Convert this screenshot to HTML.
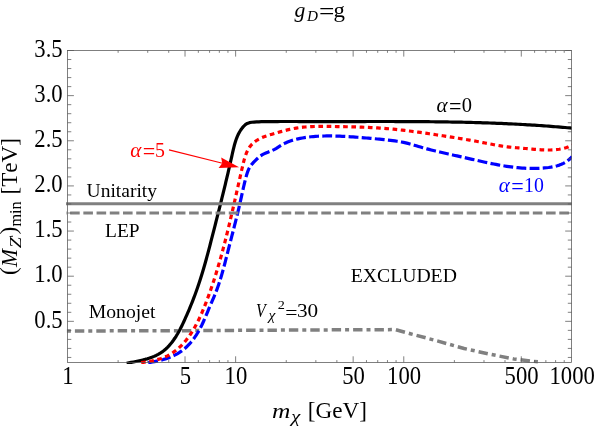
<!DOCTYPE html>
<html><head><meta charset="utf-8"><title>plot</title>
<style>
html,body{margin:0;padding:0;background:#fff;}
svg{display:block;font-family:"Liberation Serif",serif;will-change:transform;font-kerning:none;}
.tk{fill:#000;}
.an{font-size:19.5px;fill:#000;}
.al{font-size:21px;}
i,.it{font-style:italic;}
</style></head><body>
<svg width="595" height="428" viewBox="0 0 595 428">
<rect width="595" height="428" fill="#fff"/>
<defs><clipPath id="cp"><rect x="66.0" y="50.5" width="505.9" height="313.59999999999997"/></clipPath></defs>
<g clip-path="url(#cp)" fill="none">
<path d="M66.40,331.00 L200.00,330.60 L300.00,330.00 L395.50,329.60 L410.30,333.70 L437.20,340.90 L464.10,348.50 L491.00,354.40 L513.60,358.90 L530.40,361.00 L539.70,362.00" stroke="#808080" stroke-width="3.5" stroke-dasharray="9.4 4 4 4" stroke-dashoffset="12.9" stroke-linejoin="round"/>
<path d="M126.63,363.35 L128.88,362.88 L131.16,362.42 L133.47,361.96 L135.79,361.50 L138.11,361.02 L140.44,360.51 L142.76,359.96 L145.06,359.38 L147.35,358.73 L149.60,358.02 L151.82,357.24 L154.00,356.38 L156.13,355.43 L158.20,354.37 L160.21,353.21 L162.14,351.92 L164.00,350.51 L165.79,348.98 L167.49,347.34 L169.13,345.61 L170.69,343.80 L172.18,341.93 L173.60,339.99 L174.95,338.02 L176.24,336.02 L177.46,334.00 L178.63,331.95 L179.75,329.89 L180.83,327.81 L181.88,325.72 L182.89,323.61 L183.88,321.49 L184.85,319.36 L185.81,317.22 L186.76,315.08 L187.70,312.92 L188.62,310.76 L189.54,308.60 L190.44,306.42 L191.32,304.24 L192.20,302.05 L193.06,299.85 L193.90,297.65 L194.74,295.45 L195.56,293.23 L196.36,291.01 L197.15,288.79 L197.93,286.56 L198.69,284.32 L199.44,282.08 L200.17,279.83 L200.88,277.58 L201.59,275.33 L202.28,273.07 L202.96,270.81 L203.62,268.54 L204.28,266.28 L204.93,264.01 L205.56,261.73 L206.19,259.46 L206.81,257.18 L207.43,254.90 L208.04,252.62 L208.64,250.34 L209.24,248.06 L209.83,245.78 L210.42,243.50 L211.01,241.22 L211.60,238.94 L212.18,236.66 L212.77,234.39 L213.35,232.11 L213.94,229.83 L214.52,227.56 L215.10,225.28 L215.68,223.01 L216.26,220.73 L216.84,218.46 L217.42,216.18 L217.99,213.91 L218.56,211.63 L219.14,209.36 L219.71,207.08 L220.28,204.81 L220.84,202.53 L221.41,200.25 L221.97,197.97 L222.54,195.69 L223.10,193.41 L223.65,191.12 L224.21,188.84 L224.76,186.55 L225.32,184.26 L225.86,181.97 L226.41,179.67 L226.95,177.38 L227.50,175.08 L228.04,172.78 L228.57,170.47 L229.11,168.17 L229.64,165.86 L230.16,163.54 L230.69,161.23 L231.21,158.91 L231.73,156.58 L232.24,154.26 L232.76,151.93 L233.29,149.61 L233.85,147.29 L234.44,145.00 L235.09,142.73 L235.80,140.50 L236.58,138.30 L237.46,136.15 L238.44,134.04 L239.54,132.00 L240.76,130.02 L242.13,128.12 L243.65,126.30 L245.35,124.67 L247.27,123.41 L249.44,122.66 L251.76,122.28 L254.14,122.07 L256.52,121.91 L258.90,121.79 L261.27,121.70 L263.63,121.64 L265.99,121.59 L268.35,121.57 L270.71,121.55 L273.07,121.54 L275.43,121.53 L277.78,121.53 L280.14,121.52 L282.50,121.52 L284.85,121.52 L287.21,121.52 L289.57,121.52 L291.92,121.52 L294.28,121.52 L296.63,121.52 L298.99,121.53 L301.34,121.53 L303.70,121.54 L306.05,121.54 L308.41,121.54 L310.76,121.55 L313.12,121.55 L315.47,121.56 L317.83,121.56 L320.18,121.56 L322.54,121.56 L324.89,121.56 L327.25,121.56 L329.60,121.56 L331.96,121.56 L334.31,121.56 L336.67,121.56 L339.02,121.56 L341.38,121.56 L343.74,121.55 L346.09,121.55 L348.45,121.55 L350.80,121.54 L353.16,121.54 L355.52,121.54 L357.87,121.53 L360.23,121.53 L362.59,121.53 L364.94,121.53 L367.30,121.52 L369.66,121.52 L372.01,121.52 L374.37,121.52 L376.73,121.52 L379.08,121.52 L381.44,121.51 L383.80,121.52 L386.15,121.52 L388.51,121.52 L390.87,121.52 L393.22,121.52 L395.58,121.53 L397.94,121.53 L400.29,121.54 L402.65,121.55 L405.01,121.56 L407.36,121.57 L409.72,121.58 L412.08,121.59 L414.43,121.60 L416.79,121.62 L419.15,121.63 L421.50,121.65 L423.86,121.67 L426.22,121.69 L428.57,121.71 L430.93,121.73 L433.29,121.76 L435.64,121.79 L438.00,121.82 L440.35,121.85 L442.71,121.88 L445.07,121.91 L447.42,121.95 L449.78,121.99 L452.13,122.03 L454.49,122.07 L456.85,122.12 L459.20,122.17 L461.56,122.22 L463.91,122.27 L466.27,122.32 L468.62,122.38 L470.98,122.44 L473.33,122.50 L475.69,122.57 L478.04,122.64 L480.40,122.71 L482.75,122.78 L485.11,122.86 L487.46,122.93 L489.82,123.02 L492.17,123.10 L494.52,123.19 L496.88,123.28 L499.23,123.38 L501.58,123.47 L503.94,123.58 L506.29,123.68 L508.64,123.79 L511.00,123.90 L513.35,124.01 L515.70,124.13 L518.06,124.25 L520.41,124.38 L522.76,124.51 L525.11,124.64 L527.46,124.78 L529.81,124.92 L532.17,125.06 L534.52,125.21 L536.87,125.36 L539.22,125.52 L541.57,125.68 L543.92,125.85 L546.27,126.02 L548.62,126.19 L550.97,126.37 L553.32,126.55 L555.67,126.74 L558.02,126.93 L560.37,127.12 L562.71,127.32 L565.06,127.53 L567.41,127.74 L569.76,127.95 L572.11,128.17" stroke="#000" stroke-width="3.2" stroke-linejoin="round"/>
<path d="M148.24,362.64 L150.36,362.34 L152.50,362.00 L154.65,361.61 L156.81,361.17 L158.98,360.68 L161.14,360.14 L163.29,359.54 L165.42,358.88 L167.54,358.16 L169.63,357.38 L171.69,356.53 L173.72,355.60 L175.70,354.61 L177.64,353.54 L179.52,352.39 L181.34,351.16 L183.10,349.85 L184.80,348.46 L186.43,346.99 L188.01,345.46 L189.52,343.86 L190.98,342.21 L192.38,340.50 L193.72,338.74 L195.00,336.94 L196.23,335.10 L197.40,333.23 L198.52,331.32 L199.59,329.39 L200.62,327.44 L201.61,325.47 L202.56,323.47 L203.48,321.46 L204.38,319.44 L205.26,317.41 L206.12,315.37 L206.98,313.33 L207.82,311.28 L208.67,309.23 L209.53,307.19 L210.39,305.15 L211.26,303.12 L212.14,301.09 L213.02,299.06 L213.90,297.03 L214.75,295.00 L215.58,292.95 L216.38,290.90 L217.15,288.84 L217.90,286.76 L218.62,284.68 L219.32,282.59 L219.99,280.49 L220.65,278.38 L221.29,276.27 L221.91,274.15 L222.51,272.03 L223.11,269.90 L223.69,267.76 L224.25,265.63 L224.82,263.49 L225.37,261.35 L225.92,259.20 L226.46,257.06 L227.01,254.92 L227.55,252.77 L228.09,250.63 L228.64,248.49 L229.18,246.35 L229.73,244.21 L230.29,242.07 L230.84,239.93 L231.39,237.80 L231.94,235.66 L232.50,233.52 L233.05,231.39 L233.60,229.25 L234.15,227.12 L234.69,224.98 L235.24,222.84 L235.78,220.70 L236.31,218.56 L236.84,216.42 L237.37,214.28 L237.89,212.13 L238.41,209.98 L238.91,207.83 L239.42,205.68 L239.91,203.52 L240.40,201.36 L240.88,199.20 L241.35,197.04 L241.82,194.87 L242.30,192.71 L242.78,190.55 L243.26,188.39 L243.75,186.23 L244.26,184.08 L244.78,181.94 L245.32,179.80 L245.87,177.67 L246.46,175.55 L247.08,173.44 L247.79,171.38 L248.63,169.37 L249.65,167.44 L250.86,165.60 L252.23,163.85 L253.72,162.17 L255.28,160.55 L256.89,159.00 L258.52,157.51 L260.21,156.14 L262.00,154.93 L263.90,153.90 L265.88,153.01 L267.92,152.19 L269.98,151.40 L272.03,150.56 L274.04,149.63 L275.99,148.56 L277.88,147.38 L279.76,146.17 L281.65,145.00 L283.58,143.92 L285.56,142.94 L287.57,142.06 L289.61,141.26 L291.68,140.54 L293.78,139.90 L295.91,139.33 L298.05,138.82 L300.21,138.37 L302.39,137.97 L304.57,137.61 L306.75,137.30 L308.95,137.02 L311.14,136.78 L313.34,136.57 L315.54,136.40 L317.75,136.25 L319.96,136.14 L322.17,136.05 L324.38,135.99 L326.59,135.96 L328.80,135.94 L331.02,135.95 L333.23,135.98 L335.44,136.03 L337.66,136.10 L339.87,136.18 L342.08,136.28 L344.29,136.39 L346.50,136.51 L348.70,136.64 L350.90,136.78 L353.10,136.93 L355.30,137.09 L357.50,137.25 L359.70,137.42 L361.89,137.60 L364.09,137.79 L366.28,137.98 L368.48,138.18 L370.67,138.37 L372.87,138.58 L375.07,138.78 L377.27,138.99 L379.47,139.20 L381.67,139.41 L383.87,139.63 L386.07,139.85 L388.28,140.09 L390.47,140.34 L392.67,140.61 L394.86,140.90 L397.05,141.22 L399.23,141.58 L401.40,141.97 L403.56,142.40 L405.71,142.87 L407.85,143.39 L409.99,143.95 L412.11,144.55 L414.23,145.17 L416.35,145.81 L418.46,146.44 L420.58,147.07 L422.70,147.68 L424.83,148.27 L426.96,148.85 L429.09,149.42 L431.23,149.97 L433.37,150.51 L435.52,151.03 L437.66,151.55 L439.81,152.06 L441.96,152.56 L444.11,153.05 L446.27,153.54 L448.42,154.02 L450.58,154.50 L452.74,154.98 L454.89,155.45 L457.05,155.93 L459.21,156.40 L461.37,156.88 L463.52,157.36 L465.68,157.85 L467.83,158.34 L469.99,158.83 L472.14,159.32 L474.30,159.81 L476.45,160.30 L478.61,160.78 L480.76,161.27 L482.92,161.74 L485.08,162.22 L487.24,162.68 L489.40,163.13 L491.56,163.58 L493.73,164.01 L495.89,164.43 L498.06,164.84 L500.23,165.23 L502.41,165.60 L504.58,165.96 L506.77,166.30 L508.95,166.61 L511.14,166.91 L513.33,167.19 L515.52,167.44 L517.72,167.66 L519.92,167.86 L522.13,168.03 L524.33,168.18 L526.54,168.29 L528.75,168.37 L530.95,168.42 L533.17,168.44 L535.38,168.42 L537.59,168.36 L539.80,168.27 L542.01,168.14 L544.23,167.97 L546.44,167.76 L548.65,167.50 L550.84,167.18 L553.02,166.79 L555.18,166.33 L557.29,165.76 L559.37,165.10 L561.40,164.31 L563.37,163.40 L565.28,162.34 L567.11,161.13 L568.87,159.76 L570.53,158.21 L572.11,156.47" stroke="#0000ff" stroke-width="3.2" stroke-dasharray="9.85 3.31" stroke-linejoin="round"/>
<path d="M141.21,362.60 L143.40,362.31 L145.62,361.99 L147.85,361.64 L150.09,361.25 L152.33,360.82 L154.57,360.33 L156.79,359.77 L158.99,359.15 L161.16,358.46 L163.30,357.68 L165.39,356.82 L167.44,355.86 L169.43,354.80 L171.36,353.64 L173.24,352.39 L175.06,351.06 L176.83,349.66 L178.54,348.18 L180.20,346.64 L181.80,345.04 L183.35,343.38 L184.85,341.68 L186.29,339.94 L187.68,338.16 L189.02,336.35 L190.31,334.50 L191.56,332.62 L192.76,330.72 L193.92,328.79 L195.04,326.83 L196.13,324.85 L197.18,322.84 L198.20,320.82 L199.18,318.78 L200.14,316.72 L201.07,314.65 L201.98,312.56 L202.87,310.47 L203.74,308.36 L204.59,306.25 L205.42,304.14 L206.24,302.02 L207.05,299.89 L207.84,297.77 L208.63,295.64 L209.40,293.50 L210.16,291.37 L210.91,289.23 L211.64,287.09 L212.37,284.94 L213.09,282.79 L213.79,280.64 L214.49,278.49 L215.17,276.34 L215.85,274.18 L216.52,272.02 L217.17,269.86 L217.82,267.69 L218.46,265.53 L219.10,263.36 L219.72,261.19 L220.34,259.02 L220.95,256.84 L221.55,254.67 L222.14,252.49 L222.73,250.31 L223.31,248.13 L223.89,245.94 L224.46,243.76 L225.02,241.57 L225.58,239.38 L226.14,237.20 L226.68,235.00 L227.23,232.81 L227.77,230.62 L228.30,228.42 L228.83,226.22 L229.36,224.03 L229.88,221.83 L230.40,219.63 L230.92,217.42 L231.43,215.22 L231.94,213.02 L232.45,210.81 L232.96,208.60 L233.46,206.40 L233.97,204.19 L234.47,201.98 L234.97,199.77 L235.47,197.56 L235.97,195.34 L236.47,193.13 L236.96,190.92 L237.46,188.70 L237.96,186.49 L238.46,184.27 L238.96,182.06 L239.46,179.84 L239.97,177.62 L240.47,175.41 L240.98,173.19 L241.48,170.97 L241.99,168.75 L242.51,166.53 L243.03,164.32 L243.56,162.11 L244.14,159.91 L244.77,157.74 L245.47,155.60 L246.26,153.49 L247.15,151.43 L248.16,149.43 L249.31,147.53 L250.61,145.74 L252.07,144.10 L253.69,142.61 L255.45,141.25 L257.31,140.03 L259.28,138.92 L261.32,137.92 L263.42,137.03 L265.56,136.23 L267.73,135.51 L269.92,134.83 L272.11,134.18 L274.30,133.53 L276.49,132.88 L278.68,132.25 L280.86,131.63 L283.05,131.04 L285.23,130.46 L287.42,129.91 L289.62,129.40 L291.82,128.92 L294.02,128.49 L296.24,128.10 L298.46,127.76 L300.69,127.47 L302.93,127.21 L305.17,127.00 L307.42,126.82 L309.67,126.68 L311.93,126.56 L314.19,126.48 L316.45,126.42 L318.72,126.38 L320.99,126.36 L323.26,126.36 L325.54,126.37 L327.81,126.40 L330.08,126.43 L332.36,126.47 L334.63,126.51 L336.90,126.55 L339.17,126.60 L341.44,126.64 L343.70,126.68 L345.97,126.73 L348.23,126.78 L350.50,126.83 L352.76,126.88 L355.02,126.94 L357.28,127.00 L359.53,127.07 L361.79,127.15 L364.05,127.23 L366.30,127.32 L368.56,127.42 L370.81,127.53 L373.07,127.65 L375.32,127.77 L377.58,127.91 L379.83,128.06 L382.08,128.22 L384.34,128.40 L386.59,128.58 L388.84,128.78 L391.10,128.98 L393.35,129.20 L395.60,129.43 L397.85,129.66 L400.10,129.91 L402.36,130.16 L404.61,130.42 L406.85,130.69 L409.10,130.97 L411.35,131.26 L413.60,131.55 L415.85,131.85 L418.09,132.15 L420.34,132.46 L422.58,132.77 L424.82,133.09 L427.06,133.41 L429.30,133.74 L431.54,134.07 L433.78,134.40 L436.02,134.74 L438.26,135.08 L440.49,135.42 L442.72,135.77 L444.96,136.12 L447.19,136.47 L449.42,136.82 L451.66,137.18 L453.89,137.53 L456.12,137.89 L458.35,138.26 L460.58,138.62 L462.81,138.99 L465.04,139.35 L467.27,139.72 L469.51,140.10 L471.74,140.48 L473.97,140.87 L476.19,141.28 L478.42,141.70 L480.65,142.12 L482.87,142.56 L485.10,142.99 L487.32,143.43 L489.55,143.86 L491.78,144.29 L494.00,144.70 L496.23,145.11 L498.46,145.50 L500.69,145.87 L502.92,146.21 L505.15,146.54 L507.39,146.83 L509.63,147.10 L511.87,147.34 L514.11,147.55 L516.36,147.75 L518.61,147.93 L520.86,148.11 L523.11,148.29 L525.37,148.48 L527.64,148.68 L529.90,148.89 L532.17,149.09 L534.44,149.29 L536.71,149.48 L538.98,149.65 L541.25,149.79 L543.52,149.90 L545.78,149.98 L548.04,150.00 L550.29,149.98 L552.55,149.89 L554.79,149.74 L557.03,149.52 L559.26,149.22 L561.48,148.84 L563.68,148.35 L565.85,147.74 L567.99,147.00 L570.09,146.10 L572.13,145.03" stroke="#ff0000" stroke-width="3.2" stroke-dasharray="4.65 3.6" stroke-dashoffset="0.06" stroke-linejoin="round"/>
<path d="M66,203.8 H573" stroke="#808080" stroke-width="2.9"/>
<path d="M66,212.9 H573" stroke="#808080" stroke-width="3.0" stroke-dasharray="9.6 3.62" stroke-dashoffset="9.1"/>
</g>
<g stroke="#555" stroke-width="0.75" fill="none" shape-rendering="auto">
<rect x="67.5" y="50.5" width="504.1" height="311.9"/>
<path d="M67.50,357.45 h3.80 M571.60,357.45 h-3.80"/><path d="M67.50,348.42 h3.80 M571.60,348.42 h-3.80"/><path d="M67.50,339.40 h3.80 M571.60,339.40 h-3.80"/><path d="M67.50,330.37 h3.80 M571.60,330.37 h-3.80"/><path d="M67.50,321.34 h6.40 M571.60,321.34 h-6.40"/><path d="M67.50,312.31 h3.80 M571.60,312.31 h-3.80"/><path d="M67.50,303.28 h3.80 M571.60,303.28 h-3.80"/><path d="M67.50,294.26 h3.80 M571.60,294.26 h-3.80"/><path d="M67.50,285.23 h3.80 M571.60,285.23 h-3.80"/><path d="M67.50,276.20 h6.40 M571.60,276.20 h-6.40"/><path d="M67.50,267.17 h3.80 M571.60,267.17 h-3.80"/><path d="M67.50,258.14 h3.80 M571.60,258.14 h-3.80"/><path d="M67.50,249.12 h3.80 M571.60,249.12 h-3.80"/><path d="M67.50,240.09 h3.80 M571.60,240.09 h-3.80"/><path d="M67.50,231.06 h6.40 M571.60,231.06 h-6.40"/><path d="M67.50,222.03 h3.80 M571.60,222.03 h-3.80"/><path d="M67.50,213.00 h3.80 M571.60,213.00 h-3.80"/><path d="M67.50,203.98 h3.80 M571.60,203.98 h-3.80"/><path d="M67.50,194.95 h3.80 M571.60,194.95 h-3.80"/><path d="M67.50,185.92 h6.40 M571.60,185.92 h-6.40"/><path d="M67.50,176.89 h3.80 M571.60,176.89 h-3.80"/><path d="M67.50,167.86 h3.80 M571.60,167.86 h-3.80"/><path d="M67.50,158.84 h3.80 M571.60,158.84 h-3.80"/><path d="M67.50,149.81 h3.80 M571.60,149.81 h-3.80"/><path d="M67.50,140.78 h6.40 M571.60,140.78 h-6.40"/><path d="M67.50,131.75 h3.80 M571.60,131.75 h-3.80"/><path d="M67.50,122.72 h3.80 M571.60,122.72 h-3.80"/><path d="M67.50,113.70 h3.80 M571.60,113.70 h-3.80"/><path d="M67.50,104.67 h3.80 M571.60,104.67 h-3.80"/><path d="M67.50,95.64 h6.40 M571.60,95.64 h-6.40"/><path d="M67.50,86.61 h3.80 M571.60,86.61 h-3.80"/><path d="M67.50,77.58 h3.80 M571.60,77.58 h-3.80"/><path d="M67.50,68.56 h3.80 M571.60,68.56 h-3.80"/><path d="M67.50,59.53 h3.80 M571.60,59.53 h-3.80"/><path d="M67.50,50.50 h6.40 M571.60,50.50 h-6.40"/><path d="M118.11,362.40 v-2.30 M118.11,50.50 v2.30"/><path d="M147.72,362.40 v-2.30 M147.72,50.50 v2.30"/><path d="M168.73,362.40 v-2.30 M168.73,50.50 v2.30"/><path d="M185.02,362.40 v-6.10 M185.02,50.50 v6.10"/><path d="M198.33,362.40 v-2.30 M198.33,50.50 v2.30"/><path d="M209.59,362.40 v-2.30 M209.59,50.50 v2.30"/><path d="M219.34,362.40 v-2.30 M219.34,50.50 v2.30"/><path d="M227.94,362.40 v-2.30 M227.94,50.50 v2.30"/><path d="M235.63,362.40 v-6.10 M235.63,50.50 v6.10"/><path d="M286.25,362.40 v-2.30 M286.25,50.50 v2.30"/><path d="M315.85,362.40 v-2.30 M315.85,50.50 v2.30"/><path d="M336.86,362.40 v-2.30 M336.86,50.50 v2.30"/><path d="M353.15,362.40 v-6.10 M353.15,50.50 v6.10"/><path d="M366.47,362.40 v-2.30 M366.47,50.50 v2.30"/><path d="M377.72,362.40 v-2.30 M377.72,50.50 v2.30"/><path d="M387.47,362.40 v-2.30 M387.47,50.50 v2.30"/><path d="M396.07,362.40 v-2.30 M396.07,50.50 v2.30"/><path d="M403.77,362.40 v-6.10 M403.77,50.50 v6.10"/><path d="M454.38,362.40 v-2.30 M454.38,50.50 v2.30"/><path d="M483.99,362.40 v-2.30 M483.99,50.50 v2.30"/><path d="M504.99,362.40 v-2.30 M504.99,50.50 v2.30"/><path d="M521.29,362.40 v-6.10 M521.29,50.50 v6.10"/><path d="M534.60,362.40 v-2.30 M534.60,50.50 v2.30"/><path d="M545.86,362.40 v-2.30 M545.86,50.50 v2.30"/><path d="M555.61,362.40 v-2.30 M555.61,50.50 v2.30"/><path d="M564.21,362.40 v-2.30 M564.21,50.50 v2.30"/>
</g>
<g fill="#000"><text transform="translate(62.70,327.54) scale(0.945,1.040)" font-size="24px" text-anchor="end" >0.5</text>
<text transform="translate(62.70,282.40) scale(0.945,1.040)" font-size="24px" text-anchor="end" >1.0</text>
<text transform="translate(62.70,237.26) scale(0.945,1.040)" font-size="24px" text-anchor="end" >1.5</text>
<text transform="translate(62.70,192.12) scale(0.945,1.040)" font-size="24px" text-anchor="end" >2.0</text>
<text transform="translate(62.70,146.98) scale(0.945,1.040)" font-size="24px" text-anchor="end" >2.5</text>
<text transform="translate(62.70,101.84) scale(0.945,1.040)" font-size="24px" text-anchor="end" >3.0</text>
<text transform="translate(62.70,56.70) scale(0.945,1.040)" font-size="24px" text-anchor="end" >3.5</text>
<text transform="translate(67.80,384.10) scale(0.945,1.040)" font-size="24px" text-anchor="middle" >1</text>
<text transform="translate(185.32,384.10) scale(0.945,1.040)" font-size="24px" text-anchor="middle" >5</text>
<text transform="translate(235.93,384.10) scale(0.945,1.040)" font-size="24px" text-anchor="middle" >10</text>
<text transform="translate(353.45,384.10) scale(0.945,1.040)" font-size="24px" text-anchor="middle" >50</text>
<text transform="translate(404.07,384.10) scale(0.945,1.040)" font-size="24px" text-anchor="middle" >100</text>
<text transform="translate(521.59,384.10) scale(0.945,1.040)" font-size="24px" text-anchor="middle" >500</text>
<text transform="translate(572.20,384.10) scale(0.945,1.040)" font-size="24px" text-anchor="middle" >1000</text>
<text transform="translate(294.59,16.70) scale(1.033,1.000)" font-size="21px" text-anchor="start"  font-style="italic">g</text>
<text transform="translate(306.97,20.50) scale(0.998,1.000)" font-size="15.2px" text-anchor="start"  font-style="italic">D</text>
<text transform="translate(318.94,18.50) scale(1.300,1.100)" font-size="21px" text-anchor="start" >=</text>
<text transform="translate(333.42,17.00) scale(1.087,1.000)" font-size="21px" text-anchor="start" >g</text>
<text transform="translate(272.08,417.70) scale(1.157,1.000)" font-size="22px" text-anchor="start"  font-style="italic">m</text>
<text transform="translate(291.34,421.60) scale(1.187,1.000)" font-size="17.3px" text-anchor="start"  font-style="italic">χ</text>
<text transform="translate(307.78,417.60) scale(1.007,1.000)" font-size="23px" text-anchor="start" >[GeV]</text>
<text transform="translate(16.40,274.91) rotate(-90) scale(0.999,1)" font-size="23px">(</text>
<text transform="translate(16.50,267.05) rotate(-90) scale(0.921,1)" font-size="23.4px" font-style="italic">M</text>
<text transform="translate(20.80,248.14) rotate(-90) scale(1.186,1)" font-size="16.8px" font-style="italic">Z</text>
<text transform="translate(16.40,234.45) rotate(-90) scale(1.016,1)" font-size="23px">)</text>
<text transform="translate(20.70,226.54) rotate(-90) scale(0.964,1)" font-size="16.8px">min</text>
<text transform="translate(16.80,194.41) rotate(-90) scale(1.002,1)" font-size="23px">[TeV]</text>
<path d="M9.6,236.6 L13.0,236.2" stroke="#000" stroke-width="0.9" fill="none"/>
<text transform="translate(86.59,196.60) scale(1.001,1.000)" font-size="19.5px" text-anchor="start" >Unitarity</text>
<text transform="translate(105.04,237.10) scale(0.996,1.000)" font-size="19.5px" text-anchor="start" >LEP</text>
<text transform="translate(88.73,318.00) scale(1.009,1.000)" font-size="19.5px" text-anchor="start" >Monojet</text>
<text transform="translate(350.83,282.30) scale(1.010,1.000)" font-size="19.5px" text-anchor="start" >EXCLUDED</text>
<text transform="translate(256.07,317.20) scale(0.815,1.000)" font-size="19.5px" text-anchor="start"  font-style="italic">V</text>
<text transform="translate(268.54,320.40) scale(1.036,1.000)" font-size="15px" text-anchor="start"  font-style="italic">χ</text>
<text transform="translate(277.78,309.30) scale(1.128,1.000)" font-size="12.6px" text-anchor="start" >2</text>
<text transform="translate(285.22,319.40) scale(1.113,1.000)" font-size="19.5px" text-anchor="start" >=</text>
<text transform="translate(296.98,317.30) scale(1.088,1.000)" font-size="19.5px" text-anchor="start" >30</text>
<text transform="translate(436.57,111.60) scale(1.055,1.000)" font-size="20px" text-anchor="start"  font-style="italic">α</text>
<text transform="translate(449.00,113.60) scale(1.054,1.050)" font-size="21px" text-anchor="start" >=</text>
<text transform="translate(461.72,111.70) scale(0.977,1.020)" font-size="21px" text-anchor="start" >0</text>
<text transform="translate(130.27,156.70) scale(1.055,1.000)" font-size="20px" text-anchor="start"  font-style="italic" fill="#ff0000">α</text>
<text transform="translate(142.70,158.70) scale(1.054,1.050)" font-size="21px" text-anchor="start"  fill="#ff0000">=</text>
<text transform="translate(154.95,156.80) scale(0.946,1.020)" font-size="21px" text-anchor="start"  fill="#ff0000">5</text>
<text transform="translate(498.77,192.30) scale(1.055,1.000)" font-size="20px" text-anchor="start"  font-style="italic" fill="#0000ff">α</text>
<text transform="translate(511.20,194.30) scale(1.054,1.050)" font-size="21px" text-anchor="start"  fill="#0000ff">=</text>
<text transform="translate(524.06,192.40) scale(0.943,1.020)" font-size="21px" text-anchor="start"  fill="#0000ff">10</text>
</g>
<!-- arrow -->
<path d="M169,149.9 L222.5,163.3" stroke="#ff0000" stroke-width="1.1" fill="none"/>
<path d="M239.1,167.2 L218.6,168.0 L222.2,163.2 L221.2,157.6 Z" fill="#ff0000"/>
</svg>
</body></html>
